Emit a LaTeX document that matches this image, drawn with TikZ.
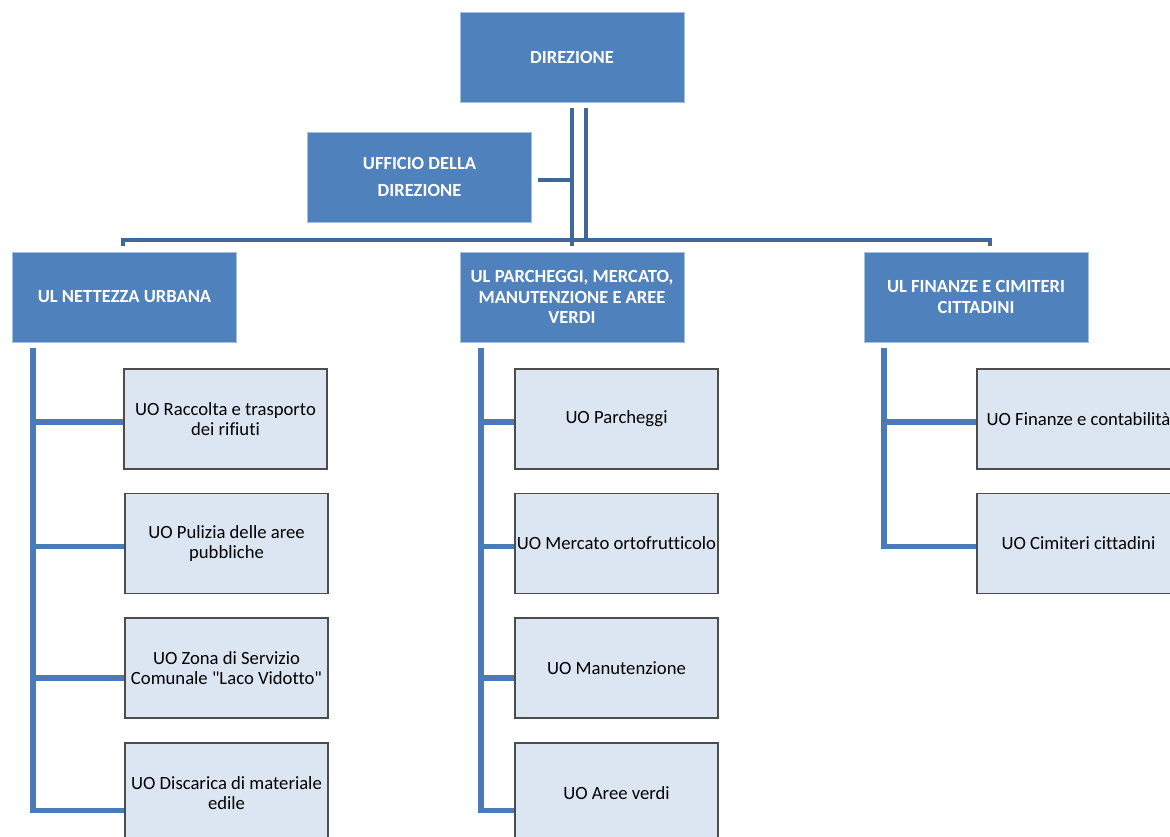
\documentclass[tikz,border=0pt]{standalone}
\usepackage{fontspec}
\setmainfont[Ligatures=NoCommon]{Carlito}
\newfontfamily\carlplain[Ligatures=NoCommon]{Carlito}
\definecolor{hdr}{HTML}{4F81BD}
\definecolor{hdrb}{HTML}{A7BFDE}
\definecolor{chl}{HTML}{DCE6F2}
\definecolor{lntop}{HTML}{3F6898}
\definecolor{lnlow}{HTML}{4A7AB7}
\tikzset{
  hbox/.style={rectangle, fill=hdr, draw=hdrb, line width=0.6pt, minimum width=168pt, minimum height=67.5pt, text=white, font=\fontsize{13.9}{15.4}\selectfont\bfseries, align=center, inner sep=2pt},
  cbox/.style={rectangle, fill=chl, draw=black!70, line width=0.8pt, minimum width=152.25pt, minimum height=75pt, font=\fontsize{14}{15}\selectfont, align=center, inner sep=1pt},
  toplinkb/.style={draw=lntop, line width=3.6pt},
  lowlink/.style={draw=lnlow, line width=3.9pt}
}
\begin{document}
\begin{tikzpicture}[x=0.75pt,y=-0.75pt]
\useasboundingbox (0,0) rectangle (1170,837);
\begin{scope}
\clip (0,0) rectangle (1170,837);
% headers
\node[hbox] (dir) at (572,57) {DIREZIONE};
\node[hbox] (uff) at (419.5,177) {UFFICIO DELLA\\[5.5pt]DIREZIONE};
\node[hbox] (ul1) at (124.5,297) {UL NETTEZZA URBANA};
\node[hbox] (ul2) at (572,297) {UL PARCHEGGI, MERCATO,\\MANUTENZIONE E AREE\\VERDI};
\node[hbox] (ul3) at (976,297) {UL FINANZE E CIMITERI\\CITTADINI};
% children left
\node[cbox] (c11) at (225.5,419) {UO Raccolta e trasporto\\dei rifiuti};
\node[cbox] (c12) at (226.5,543.5) {UO Pulizia delle aree\\pubbliche};
\node[cbox] (c13) at (226.5,668) {UO Zona di Servizio\\Comunale {\carlplain"}Laco Vidotto{\carlplain"}};
\node[cbox] (c14) at (226.5,793) {UO Discarica di materiale\\edile};
% children middle
\node[cbox] (c21) at (616.5,419) {UO Parcheggi};
\node[cbox] (c22) at (616.5,543.5) {UO Mercato ortofrutticolo};
\node[cbox] (c23) at (616.5,668) {UO Manutenzione};
\node[cbox] (c24) at (616.5,793) {UO Aree verdi};
% children right
\node[cbox] (c31) at (1078.5,419) {UO Finanze e contabilità};
\node[cbox] (c32) at (1078.5,543.5) {UO Cimiteri cittadini};
\end{scope}
% top connectors
\coordinate (da) at (572,108);
\coordinate (db) at (586,108);
\coordinate (bl) at (123,246);
\coordinate (br) at (990,246);
\draw[toplinkb] (da) -- (572,246);
\draw[toplinkb] (db) -- (586,240);
\draw[toplinkb] (uff.east) ++(6,3) -- (574,180);
\draw[toplinkb] (bl) -- (123,240) -- (990,240) -- (br);
% lower connectors
\coordinate (t1) at (33,348);
\coordinate (t2) at (481,348);
\coordinate (t3) at (884,348);
\draw[lowlink, line join=miter] (t1) |- ([yshift=-13pt]c14.west);
\draw[lowlink] (t1 |- c11.west) ++(0,3) -- ([yshift=-2.25pt]c11.west);
\draw[lowlink] (t1 |- c12.west) ++(0,3) -- ([yshift=-2.25pt]c12.west);
\draw[lowlink] (t1 |- c13.west) ++(0,10) -- ([yshift=-7.5pt]c13.west);
\draw[lowlink, line join=miter] (t2) |- ([yshift=-13pt]c24.west);
\draw[lowlink] (t2 |- c21.west) ++(0,3) -- ([yshift=-2.25pt]c21.west);
\draw[lowlink] (t2 |- c22.west) ++(0,3) -- ([yshift=-2.25pt]c22.west);
\draw[lowlink] (t2 |- c23.west) ++(0,10) -- ([yshift=-7.5pt]c23.west);
\draw[lowlink, line join=miter] (t3) |- ([yshift=-2.25pt]c32.west);
\draw[lowlink] (t3 |- c31.west) ++(0,3) -- ([yshift=-2.25pt]c31.west);
\end{tikzpicture}
\end{document}
